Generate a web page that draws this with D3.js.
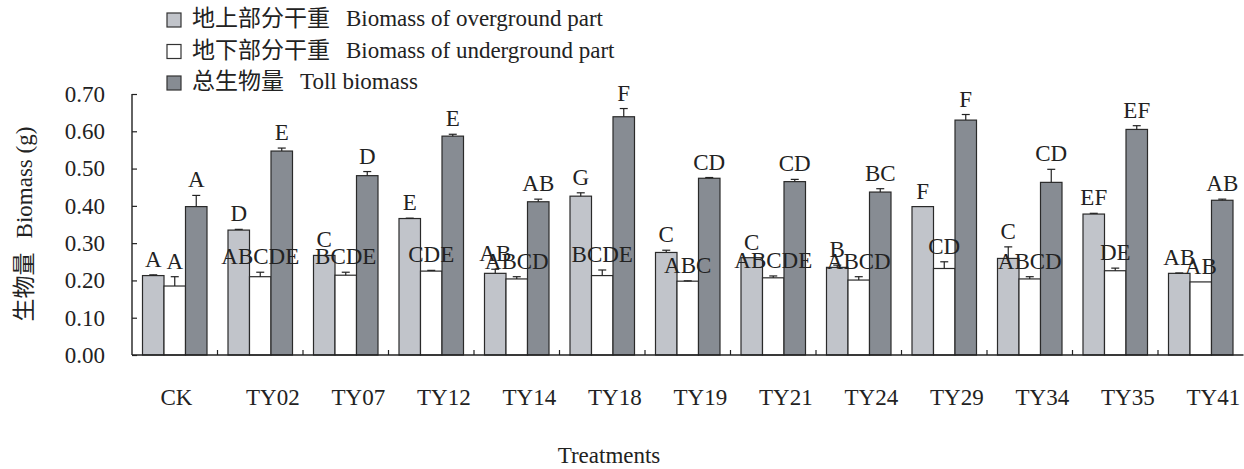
<!DOCTYPE html>
<html>
<head>
<meta charset="utf-8">
<script src="https://cdn.jsdelivr.net/npm/d3@7"></script>
<style>
  body { margin: 0; background: #fff; }
  svg text { font-family: "Liberation Serif", "Noto Sans CJK SC", serif; fill: #222; }
</style>
</head>
<body>
<div id="chart"></div>
<script>
// 数据
var treatments = ['CK', 'TY02', 'TY07', 'TY12', 'TY14', 'TY18', 'TY19', 'TY21', 'TY24', 'TY29', 'TY34', 'TY35', 'TY41'];
var overground = [0.213, 0.335, 0.267, 0.366, 0.219, 0.426, 0.275, 0.261, 0.235, 0.398, 0.259, 0.378, 0.219];
var underground = [0.185, 0.210, 0.214, 0.225, 0.204, 0.213, 0.198, 0.207, 0.201, 0.232, 0.204, 0.226, 0.196];
var total = [0.398, 0.547, 0.481, 0.587, 0.411, 0.639, 0.474, 0.465, 0.437, 0.630, 0.463, 0.605, 0.415];
var overgroundErr = [0.002, 0.002, 0.000, 0.001, 0.011, 0.009, 0.006, 0.000, 0.006, 0.000, 0.031, 0.002, 0.001];
var undergroundErr = [0.025, 0.012, 0.008, 0.002, 0.006, 0.015, 0.001, 0.005, 0.009, 0.018, 0.006, 0.007, 0.000];
var totalErr = [0.030, 0.008, 0.011, 0.005, 0.007, 0.022, 0.002, 0.006, 0.009, 0.015, 0.035, 0.010, 0.003];
var overgroundSig = ['A', 'D', 'C', 'E', 'AB', 'G', 'C', 'C', 'B', 'F', 'C', 'EF', 'AB'];
var undergroundSig = ['A', 'ABCDE', 'BCDE', 'CDE', 'ABCD', 'BCDE', 'ABC', 'ABCDE', 'ABCD', 'CD', 'ABCD', 'DE', 'AB'];
var totalSig = ['A', 'E', 'D', 'E', 'AB', 'F', 'CD', 'CD', 'BC', 'F', 'CD', 'EF', 'AB'];
var yTicks = [0, 0.1, 0.2, 0.3, 0.4, 0.5, 0.6, 0.7];
var legendCN = ['地上部分干重', '地下部分干重', '总生物量'];
var legendEN = ['Biomass of overground part', 'Biomass of underground part', 'Toll biomass'];

var series = [
	{ key: 'over', values: overground, errs: overgroundErr, sig: overgroundSig, fill: '#c1c4ca' },
	{ key: 'under', values: underground, errs: undergroundErr, sig: undergroundSig, fill: '#ffffff' },
	{ key: 'total', values: total, errs: totalErr, sig: totalSig, fill: '#878c93' }
];

var width = 1244, height = 469;
var x_left = 132, x_right = 1243.5, y_top = 94, y_bottom = 355;
var fs = 23;
var serif = '"Liberation Serif", "Times New Roman", serif';
var cjk = '"Noto Sans CJK SC", sans-serif';

var svg = d3.select('#chart').append('svg')
	.attr('width', width)
	.attr('height', height)
	.attr('font-family', serif);

var x = d3.scaleBand().domain(treatments).range([x_left, x_right]).padding(0);
var xs = d3.scaleBand().domain(series.map(function (s) { return s.key; })).range([10.5, 75]).padding(0);
var y = d3.scaleLinear().domain([0, 0.7]).range([y_bottom, y_top]);

var barLayer = svg.append('g');
var labelLayer = svg.append('g');

// 柱子 + 误差线 + 显著性字母
series.forEach(function (s) {
	treatments.forEach(function (t, i) {
		var bx = x(t) + xs(s.key);
		var bw = xs.bandwidth();
		var cx = bx + bw / 2;
		var v = s.values[i], e = s.errs[i];
		barLayer.append('rect')
			.attr('x', bx)
			.attr('y', y(v))
			.attr('width', bw)
			.attr('height', y(0) - y(v))
			.attr('fill', s.fill)
			.style('stroke', '#2a2a2a')
			.style('stroke-width', '1.2px');
		if (e > 0) {
			barLayer.append('line')
				.attr('x1', cx).attr('x2', cx)
				.attr('y1', y(v)).attr('y2', y(v + e))
				.style('stroke', '#222').style('stroke-width', '1.2px');
			barLayer.append('line')
				.attr('x1', cx - 4).attr('x2', cx + 4)
				.attr('y1', y(v + e)).attr('y2', y(v + e))
				.style('stroke', '#222').style('stroke-width', '1.2px');
		}
		labelLayer.append('text')
			.attr('x', cx)
			.attr('y', y(v + e) - 8)
			.attr('text-anchor', 'middle')
			.style('font-family', serif)
			.style('font-size', fs + 'px')
			.text(s.sig[i]);
	});
});

// 坐标轴
var yAxis = d3.axisLeft(y).tickValues(yTicks).tickFormat(d3.format('.2f')).tickSize(-5).tickPadding(27);
var ga = svg.append('g').attr('transform', 'translate(' + x_left + ',0)').call(yAxis);
ga.attr('font-family', null).attr('font-size', null);
ga.select('.domain').attr('d', 'M0,' + y_top + 'V' + y_bottom)
	.style('stroke', '#222').style('stroke-width', '1.4px');
ga.selectAll('.tick line').style('stroke', '#222').style('stroke-width', '1.2px');
ga.selectAll('.tick text')
	.style('font-size', fs + 'px')
	.style('font-family', serif)
	.attr('fill', '#222');

var gx = svg.append('g').attr('transform', 'translate(0,' + y_bottom + ')');
gx.append('line')
	.attr('x1', x_left).attr('x2', x_right)
	.attr('y1', 0).attr('y2', 0)
	.style('stroke', '#222').style('stroke-width', '1.4px');
treatments.forEach(function (t, i) {
	if (i > 0) {
		gx.append('line')
			.attr('x1', x(t)).attr('x2', x(t))
			.attr('y1', 0).attr('y2', -5)
			.style('stroke', '#222').style('stroke-width', '1.2px');
	}
	gx.append('text')
		.attr('x', x(t) + 28.5)
		.attr('y', 50)
		.style('font-family', serif)
		.style('font-size', fs + 'px')
		.text(t);
});

// 轴标题
svg.append('text')
	.attr('x', 609)
	.attr('y', 463)
	.attr('text-anchor', 'middle')
	.style('font-family', serif)
	.style('font-size', fs + 'px')
	.text('Treatments');

var yt = svg.append('text')
	.attr('transform', 'translate(32,224) rotate(-90)')
	.attr('text-anchor', 'middle')
	.style('font-size', fs + 'px');
yt.append('tspan').style('font-family', cjk).text('生物量');
yt.append('tspan').attr('dx', 14).style('font-family', serif).text('Biomass (g)');

// 图例
series.forEach(function (s, i) {
	var ly = 13 + i * 31.5;
	svg.append('rect')
		.attr('x', 167).attr('y', ly)
		.attr('width', 14).attr('height', 14)
		.attr('fill', s.fill)
		.style('stroke', '#333').style('stroke-width', '1.2px');
	svg.append('text')
		.attr('x', 192).attr('y', ly + 13)
		.style('font-size', fs + 'px')
		.style('font-family', cjk)
		.text(legendCN[i]);
	svg.append('text')
		.attr('x', 192 + legendCN[i].length * fs + 16).attr('y', ly + 13)
		.style('font-family', serif)
		.style('font-size', fs + 'px')
		.text(legendEN[i]);
});
</script>
</body>
</html>
